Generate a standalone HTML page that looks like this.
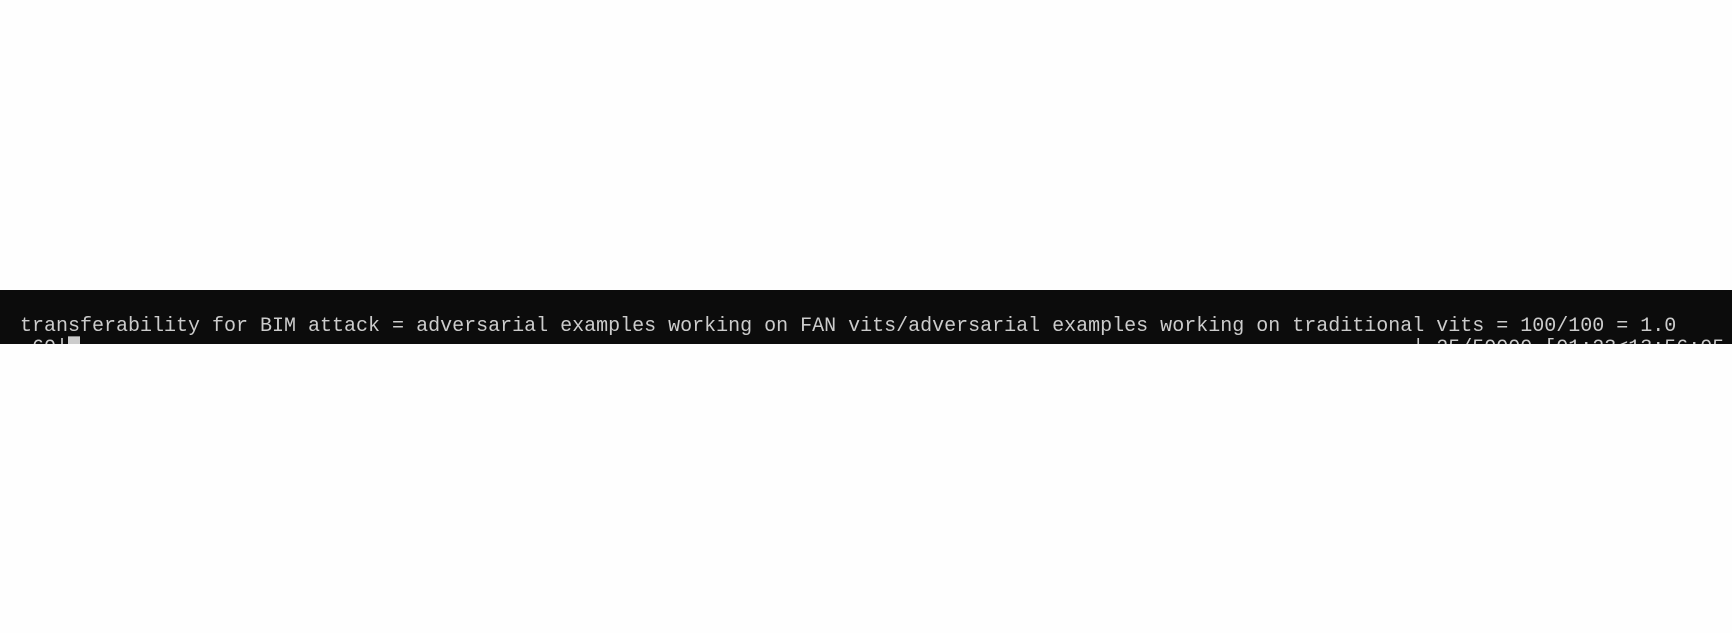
<!DOCTYPE html>
<html><head><meta charset="utf-8"><style>
html,body{margin:0;padding:0;background:#fefefe;width:1732px;height:633px;overflow:hidden;}
.band{position:absolute;left:0;top:290px;width:1732px;height:54px;background:#0c0c0c;overflow:hidden;}
.t{position:absolute;left:20px;font-family:"Liberation Mono",monospace;font-size:20px;color:#cccccc;white-space:pre;line-height:22px;}
</style></head><body>
<div class="band">
<div class="t" style="top:26px">transferability for BIM attack = adversarial examples working on FAN vits/adversarial examples working on traditional vits = 100/100 = 1.0</div>
<div class="t" style="top:48px"> 60|█                                                                                                               | 25/50000 [01:23&lt;13:56:05</div>
</div>
</body></html>
